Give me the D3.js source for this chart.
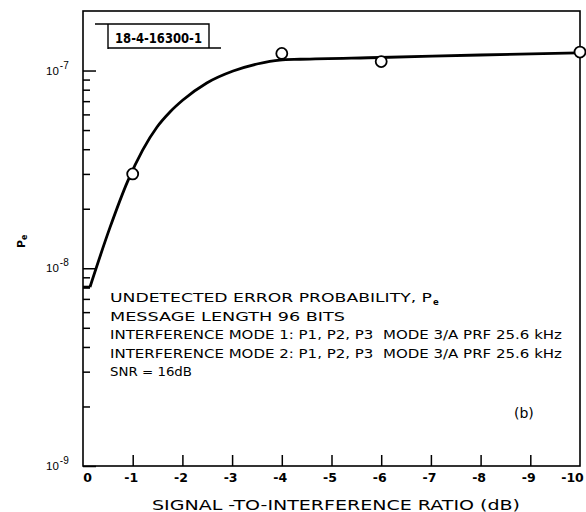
<!DOCTYPE html>
<html><head><meta charset="utf-8">
<script src="https://cdn.jsdelivr.net/npm/d3@7"></script>
<style>
body{margin:0;background:#fff;}
svg{display:block;font-family:"DejaVu Sans","Liberation Sans",Arial,sans-serif;}
text{white-space:pre;}
</style></head>
<body><svg id="c" width="586" height="512"></svg>
<script>
// ---- data ----
const xTicks = [0,-1,-2,-3,-4,-5,-6,-7,-8,-9,-10];
const xTickLabels = ["0","-1","-2","-3","-4","-5","-6","-7","-8","-9","-10"];
const yMajor = [1e-9,1e-8,1e-7];
const yMajorExp = ["-9","-8","-7"];
const yMinor = [2e-9,3e-9,4e-9,5e-9,6e-9,7e-9,8e-9,9e-9,2e-8,3e-8,4e-8,5e-8,6e-8,7e-8,8e-8,9e-8];
const pointX = [-1,-4,-6,-10];
const pointY = [3.0e-8,1.22e-7,1.11e-7,1.24e-7];
const curveX = [0,-0.14,-0.54,-0.9,-1.2,-1.49,-1.75,-2.01,-2.49,-3.02,-3.5,-3.96,-4.37,-5.98,-7.99,-10];
const curveY = [8.03e-9,8.03e-9,1.60e-8,2.76e-8,3.96e-8,5.18e-8,6.17e-8,7.09e-8,8.65e-8,9.94e-8,1.079e-7,1.13e-7,1.14e-7,1.164e-7,1.198e-7,1.23e-7];
const notes = ["UNDETECTED ERROR PROBABILITY, P","MESSAGE LENGTH 96 BITS","INTERFERENCE MODE 1: P1, P2, P3  MODE 3/A PRF 25.6 kHz","INTERFERENCE MODE 2: P1, P2, P3  MODE 3/A PRF 25.6 kHz","SNR = 16dB"];
const stamp = "18-4-16300-1";
const xTitle = "SIGNAL -TO-INTERFERENCE RATIO (dB)";

// ---- layout ----
const L=83,R=580,T=11,B=466;
const svg=d3.select("#c");
const x=d3.scaleLinear().domain([0,-10]).range([L,R]);
const y=d3.scaleLog().domain([1e-9,2e-7]).range([B,T]);

// frame
svg.append("rect").attr("x",L).attr("y",T).attr("width",R-L).attr("height",B-T)
  .attr("fill","none").attr("stroke","#000").attr("stroke-width",1.6);

// y ticks
const gy1=svg.append("g").attr("transform",`translate(${L},0)`)
  .call(d3.axisRight(y).tickValues(yMajor).tickSize(13).tickFormat(""));
const gy2=svg.append("g").attr("transform",`translate(${L},0)`)
  .call(d3.axisRight(y).tickValues(yMinor).tickSize(7).tickFormat(""));
[gy1,gy2].forEach(g=>{g.select(".domain").remove();g.selectAll("line").attr("stroke","#000").attr("stroke-width",1.5);});

// y labels
yMajor.forEach((v,i)=>{
  const t=svg.append("text").attr("x",46).attr("y",y(v)+4).attr("font-size",11.5)
    .attr("font-family","Liberation Sans, Arial, sans-serif").attr("fill","#000");
  t.append("tspan").text("10");
  t.append("tspan").attr("font-size",10).attr("dy",-6).attr("dx",1).text(yMajorExp[i]);
});

// x ticks
const gx=svg.append("g").attr("transform",`translate(0,${B})`)
  .call(d3.axisTop(x).tickValues(xTicks.slice(1,-1)).tickSize(11).tickFormat(""));
gx.select(".domain").remove();
gx.selectAll("line").attr("stroke","#000").attr("stroke-width",1.5);

// x labels
const gxl=svg.append("g").attr("transform",`translate(0,${B})`)
  .call(d3.axisBottom(x).tickValues(xTicks).tickSize(0).tickPadding(7).tickFormat((d,i)=>xTickLabels[i]));
gxl.select(".domain").remove();
gxl.selectAll("text").attr("font-size",12.5).attr("font-weight","bold").attr("fill","#000")
  .attr("font-family","DejaVu Sans, Arial, sans-serif")
  .attr("dx",(d,i)=> i===0?4:(i===xTicks.length-1?-8:-2));

// curve: short flat start (linear) then smooth rise
const pts=curveX.map((v,i)=>[x(v),y(curveY[i])]);
const crv=svg.append("g").attr("fill","none").attr("stroke","#000").attr("stroke-width",2.8).attr("stroke-linejoin","round");
crv.append("path").attr("d",d3.line()(pts.slice(0,2)));
crv.append("path").attr("d",d3.line().curve(d3.curveMonotoneX)(pts.slice(1)));

// points
svg.selectAll("circle.p").data(pointX).enter().append("circle")
  .attr("cx",d=>x(d)).attr("cy",(d,i)=>y(pointY[i])).attr("r",5.5)
  .attr("fill","#fff").attr("stroke","#000").attr("stroke-width",1.8);

// stamp box
svg.append("path").attr("d","M95,24H209V48M108,24V49M108,48H221").attr("fill","none").attr("stroke","#000").attr("stroke-width",1.4);
svg.append("text").attr("x",115).attr("y",42.5).attr("font-size",14).attr("font-weight","bold")
  .attr("textLength",87).attr("lengthAdjust","spacingAndGlyphs").text(stamp);

// notes
const noteY=[302,321,339,358,376];
const noteW=[322,235,452,452,82];
notes.forEach((s,i)=>{
  svg.append("text").attr("x",110).attr("y",noteY[i]).attr("font-size",12.5).attr("fill","#000")
    .attr("textLength",noteW[i]).attr("lengthAdjust","spacingAndGlyphs").text(s);
  if(i===0){
    svg.append("text").attr("x",433).attr("y",noteY[i]+3).attr("font-size",8.5).attr("font-weight","bold").text("e");
  }
});

// (b)
svg.append("text").attr("x",514).attr("y",418).attr("font-size",14).text("(b)");

// y title
const yt=svg.append("text").attr("transform","translate(25,248) rotate(-90)").attr("font-size",11).attr("font-weight","bold");
yt.append("tspan").text("P");
yt.append("tspan").attr("font-size",8).attr("dy",2).text("e");

// x title
svg.append("text").attr("x",152).attr("y",510).attr("font-size",13.5).attr("textLength",368)
  .attr("lengthAdjust","spacingAndGlyphs").text(xTitle);
</script></body></html>
